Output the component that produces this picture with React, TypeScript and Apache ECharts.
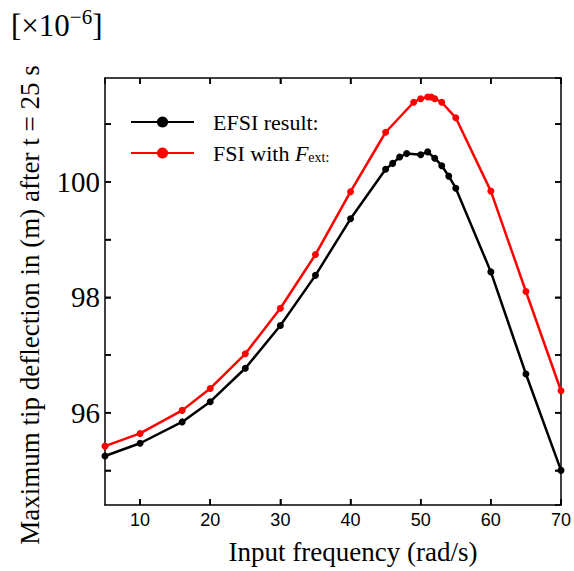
import React, { useEffect, useRef } from "react";
import * as echarts from "echarts";

const efsiX = [5, 10, 16, 20, 25, 30, 35, 40, 45, 46, 47, 48, 50, 51, 52, 53, 54, 55, 60, 65, 70];
const efsiY = [95.25, 95.47, 95.84, 96.19, 96.77, 97.51, 98.38, 99.36, 100.22, 100.32, 100.43, 100.49, 100.47, 100.52, 100.41, 100.28, 100.10, 99.89, 98.44, 96.67, 95.0];

const fsiX = [5, 10, 16, 20, 25, 30, 35, 40, 45, 49, 50, 51, 51.5, 52, 53, 55, 60, 65, 70];
const fsiY = [95.42, 95.64, 96.04, 96.42, 97.02, 97.81, 98.74, 99.83, 100.86, 101.38, 101.44, 101.47, 101.47, 101.44, 101.38, 101.11, 99.84, 98.1, 96.38];

const xRange = [5, 70];
const yRange = [94.4, 101.8];
const xTicks = [10, 20, 30, 40, 50, 60, 70];
const yTicks = [95, 96, 97, 98, 99, 100, 101];
const yLabels = [96, 98, 100];

const SERIF = "'Liberation Serif', 'DejaVu Serif', serif";
const SANS = "'Liberation Sans', Arial, sans-serif";

export default function App() {
  const ref = useRef<HTMLDivElement>(null);
  useEffect(() => {
    document.body.style.margin = "0";
    if (!ref.current) return;
    const chart = echarts.init(ref.current, null, { renderer: "svg" });
    const axisLine = { show: true, lineStyle: { color: "#000", width: 1.5 } };
    const tick = {
      show: true,
      inside: true,
      length: 6,
      lineStyle: { color: "#000", width: 1.5 },
    };
    const xBase = {
      type: "value",
      min: xRange[0],
      max: xRange[1],
      splitNumber: 6,
      axisLine,
      splitLine: { show: false },
      axisTick: tick,
    };
    const yBase = {
      type: "value",
      min: yRange[0],
      max: yRange[1],
      splitNumber: 7,
      axisLine,
      splitLine: { show: false },
      axisTick: tick,
    };
    const topLabel = {
      id: "exp",
      type: "text",
      left: 11,
      top: 6,
      style: {
        text: "{a|[×10}{s|−6}{a|]}",
        rich: {
          a: { fontFamily: SERIF, fontSize: 31, fill: "#000" },
          s: { fontFamily: SERIF, fontSize: 21, fill: "#000", padding: [0, 0, 18, 0] },
        },
      },
    };
    chart.setOption({
      animation: false,
      backgroundColor: "#fff",
      grid: { left: 105, right: 13, top: 78, bottom: 66, containLabel: false, outerBoundsMode: "none" },
      legend: {
        show: true,
        orient: "vertical",
        left: 130,
        top: 111,
        padding: 0,
        itemWidth: 63,
        itemHeight: 14,
        itemGap: 9,
        data: ["EFSI", "FSI"],
        formatter: (name: string) =>
          name === "EFSI" ? "{a|EFSI result:}" : "{a|FSI with }{i|F}{s|ext:}",
        textStyle: {
          color: "#000",
          fontFamily: SERIF,
          fontSize: 22,
          padding: [0, 0, 0, 14],
          rich: {
            a: { fontFamily: SERIF, fontSize: 22, color: "#000" },
            i: { fontFamily: SERIF, fontSize: 22, fontStyle: "italic", color: "#000" },
            s: { fontFamily: SERIF, fontSize: 14, color: "#000", padding: [9, 0, 0, 0] },
          },
        },
      },
      xAxis: [
        {
          ...xBase,
          position: "bottom",
          axisLabel: {
            showMinLabel: false,
            showMaxLabel: true,
            formatter: (v: number) => (Math.abs(v - Math.round(v / 10) * 10) < 1e-6 ? String(v) : ""),
            color: "#000",
            fontFamily: SANS,
            fontSize: 18,
            margin: 6,
          },
          name: "Input frequency (rad/s)",
          nameLocation: "middle",
          nameGap: 33,
          nameTextStyle: {
            color: "#000",
            fontFamily: SERIF,
            fontSize: 27,
            verticalAlign: "top",
            padding: [0, 0, 0, 40],
          },
        },
        { ...xBase, position: "top", axisLabel: { show: false } },
      ],
      yAxis: [
        {
          ...yBase,
          position: "left",
          axisLabel: {
            showMinLabel: false,
            showMaxLabel: false,
            formatter: (v: number) => {
              const r = Math.round(v);
              return Math.abs(v - r) < 1e-6 && yLabels.indexOf(r) >= 0 ? String(r) : "";
            },
            color: "#000",
            fontFamily: SERIF,
            fontSize: 29,
            margin: 5,
          },
          name: "Maximum tip deflection in (m) after t = 25 s",
          nameLocation: "middle",
          nameGap: 62,
          nameTextStyle: { color: "#000", fontFamily: SERIF, fontSize: 27, padding: [0, 27, 0, 0] },
        },
        { ...yBase, position: "right", axisLabel: { show: false } },
      ],
      graphic: [topLabel],
      series: [
        {
          name: "EFSI",
          type: "line",
          data: efsiX.map((x, i) => [x, efsiY[i]]),
          symbol: "circle",
          symbolSize: 7,
          showSymbol: true,
          lineStyle: { color: "#000", width: 2.5 },
          itemStyle: { color: "#000" },
          clip: false,
          z: 3,
        },
        {
          name: "FSI",
          type: "line",
          data: fsiX.map((x, i) => [x, fsiY[i]]),
          symbol: "circle",
          symbolSize: 7,
          showSymbol: true,
          lineStyle: { color: "#ff0000", width: 2.5 },
          itemStyle: { color: "#ff0000" },
          clip: false,
          z: 2,
        },
      ],
    });

    // Frame ticks placed through the axes' own scales
    const px = (v: number) => chart.convertToPixel({ xAxisIndex: 0 }, v) as number;
    const py = (v: number) => chart.convertToPixel({ yAxisIndex: 0 }, v) as number;
    const L = 6;
    const tickStyle = { stroke: "#000", lineWidth: 1.5 };
    const xl = px(xRange[0]);
    const xr = px(xRange[1]);
    const yb = py(yRange[0]);
    const yt = py(yRange[1]);
    const tickEls: any[] = [];
    xTicks.forEach((v) => {
      const x = px(v);
      tickEls.push({ type: "line", silent: true, z: 10, shape: { x1: x, y1: yb, x2: x, y2: yb - L }, style: tickStyle });
      tickEls.push({ type: "line", silent: true, z: 10, shape: { x1: x, y1: yt, x2: x, y2: yt + L }, style: tickStyle });
    });
    yTicks.forEach((v) => {
      const y = py(v);
      tickEls.push({ type: "line", silent: true, z: 10, shape: { x1: xl, y1: y, x2: xl + L, y2: y }, style: tickStyle });
      tickEls.push({ type: "line", silent: true, z: 10, shape: { x1: xr, y1: y, x2: xr - L, y2: y }, style: tickStyle });
    });
    chart.setOption({ graphic: [topLabel, ...tickEls] }, { replaceMerge: ["graphic"] });

    return () => chart.dispose();
  }, []);
  return <div ref={ref} style={{ width: 574, height: 571 }} />;
}
